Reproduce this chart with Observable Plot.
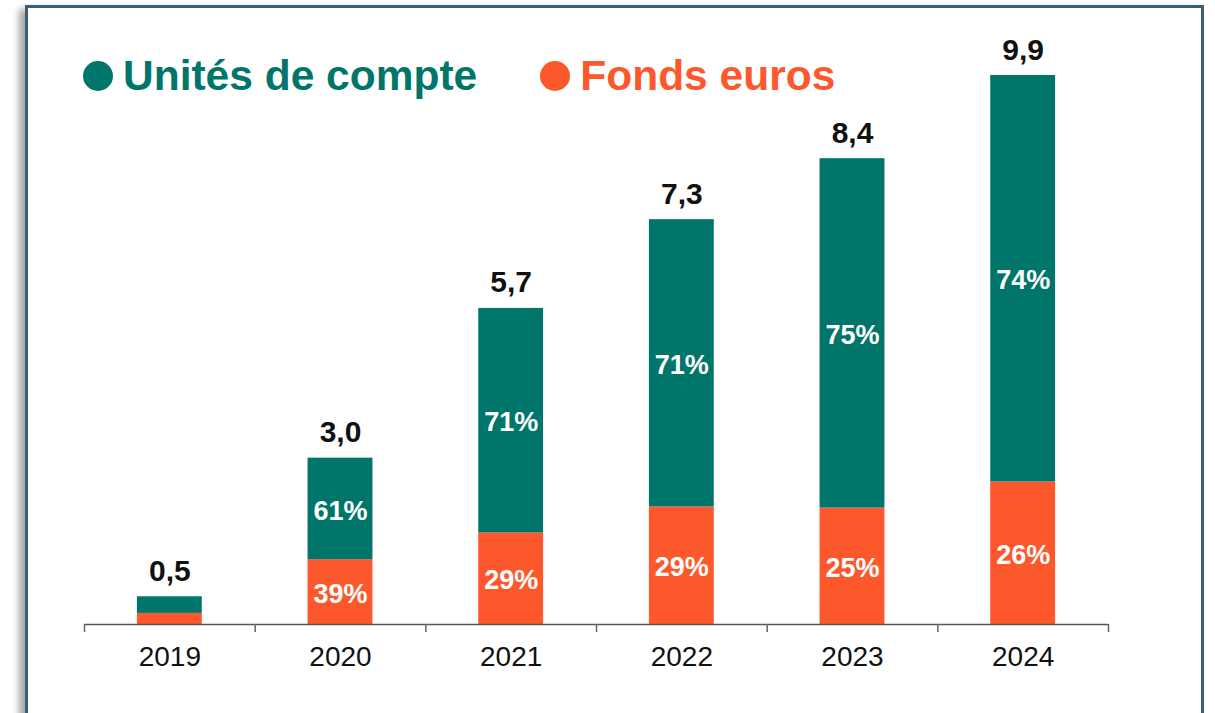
<!DOCTYPE html>
<html>
<head>
<meta charset="utf-8">
<script src="https://cdn.jsdelivr.net/npm/d3@7"></script>
<script src="https://cdn.jsdelivr.net/npm/@observablehq/plot@0.6"></script>
<style>
  html, body { margin: 0; padding: 0; background: #fff; width: 1215px; height: 713px; overflow: hidden; }
  #frame { position: absolute; left: 25px; top: 5px; width: 1173px; height: 760px;
           border: 3px solid #3d5c78; box-shadow: -6px 4px 7px rgba(0,0,0,0.35); background: #fff; }
  #chart { position: absolute; left: 0; top: 0; }
  #legend { position: absolute; left: 83px; top: 52px; font-family: "Liberation Sans", Arial, sans-serif;
            font-weight: bold; font-size: 42.5px; display: flex; align-items: center; white-space: nowrap; }
  .item { display: flex; align-items: center; }
  .dot { width: 30px; height: 30px; border-radius: 50%; display: inline-block; margin-right: 10px; }
</style>
</head>
<body>
<div id="frame"></div>
<div id="chart"></div>
<div id="legend"></div>
<script>
const years = ["2019", "2020", "2021", "2022", "2023", "2024"];
const totals = [0.5, 3.0, 5.7, 7.3, 8.4, 9.9];
const eurosValues = [0.2, 1.17, 1.65, 2.12, 2.1, 2.57];
const ucValues = [0.3, 1.83, 4.05, 5.18, 6.3, 7.33];
const eurosPct = ["", "39%", "29%", "29%", "25%", "26%"];
const ucPct = ["", "61%", "71%", "71%", "75%", "74%"];
const seriesNames = ["Fonds euros", "Unités de compte"];
const seriesColors = ["#fc582c", "#00766b"];

const rows = [];
years.forEach((y, i) => rows.push({year: y, serie: seriesNames[0], value: eurosValues[i], pct: eurosPct[i]}));
years.forEach((y, i) => rows.push({year: y, serie: seriesNames[1], value: ucValues[i], pct: ucPct[i]}));
const totalRows = years.map((y, i) => ({year: y, total: totals[i]}));

const W = 1215, H = 713, mL = 84, mR = 107;
const step = (W - mL - mR) / years.length;
const font = "Liberation Sans, Arial, sans-serif";

const plot = Plot.plot({
  width: W, height: H,
  marginLeft: mL, marginRight: mR, marginTop: 75, marginBottom: 89,
  style: {fontFamily: font, background: "transparent", overflow: "visible"},
  x: {domain: years, paddingInner: 0.62, paddingOuter: 0.31, round: false},
  y: {domain: [0, 9.9], axis: null},
  color: {domain: seriesNames, range: seriesColors},
  marks: [
    Plot.barY(rows, Plot.stackY({x: "year", y: "value", z: "serie", fill: "serie", order: seriesNames})),
    Plot.text(rows, Plot.stackY({x: "year", y: "value", z: "serie", order: seriesNames, text: "pct",
      fill: "white", fontWeight: "bold", fontSize: 27, lineAnchor: "middle", dy: 2})),
    Plot.text(totalRows, {x: "year", y: "total", text: d => d.total.toFixed(1).replace(".", ","),
      fill: "#111", fontWeight: "bold", fontSize: 30, lineAnchor: "bottom", dy: -16}),
    Plot.ruleY([0], {stroke: "#555", strokeWidth: 1.5}),
    Plot.ruleX(years, {x: d => d, y1: 0, y2: 0, insetBottom: -8, dx: -step / 2, stroke: "#666", strokeWidth: 1.5}),
    Plot.ruleX(years.slice(-1), {x: d => d, y1: 0, y2: 0, insetBottom: -8, dx: step / 2, stroke: "#666", strokeWidth: 1.5}),
    Plot.axisX({tickSize: 0, tickPadding: 22, fontSize: 28, fill: "#111", label: null})
  ]
});
document.getElementById("chart").appendChild(plot);

const legend = document.getElementById("legend");
[[1, 0], [0, 63]].forEach(([k, gap]) => {
  const item = document.createElement("span");
  item.className = "item";
  item.style.marginLeft = gap + "px";
  item.style.color = seriesColors[k];
  const dot = document.createElement("span");
  dot.className = "dot";
  dot.style.background = seriesColors[k];
  item.appendChild(dot);
  item.appendChild(document.createTextNode(seriesNames[k]));
  legend.appendChild(item);
});
</script>
</body>
</html>
